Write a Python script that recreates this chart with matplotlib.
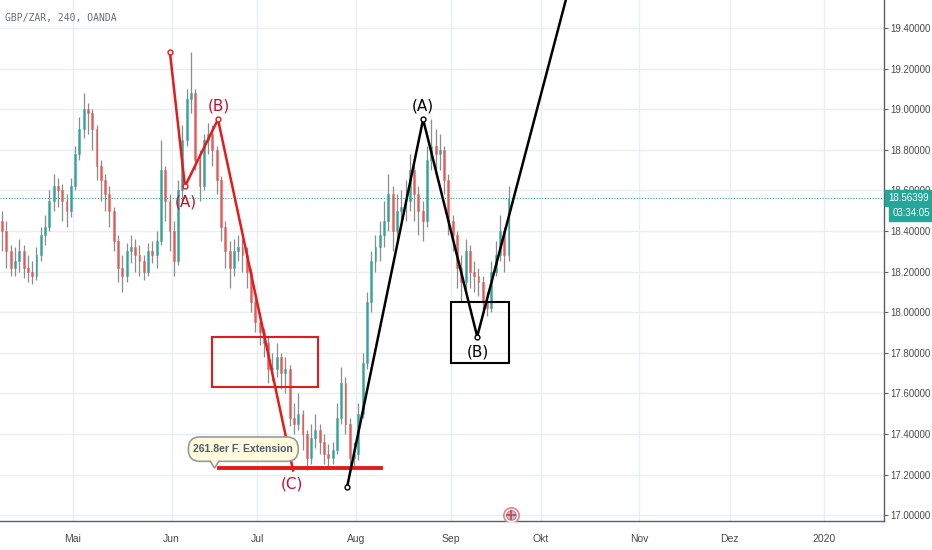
import numpy as np
import matplotlib
matplotlib.use("Agg")
import matplotlib.pyplot as plt
from matplotlib.patches import Rectangle, FancyBboxPatch, Polygon

# daily candles GBP/ZAR, weekday index 0 = 2019-04-08
closes = [18.40, 18.30, 18.22, 18.25, 18.30, 18.22, 18.20, 18.18, 18.28, 18.38,
          18.42, 18.55, 18.62, 18.60, 18.55, 18.50, 18.62, 18.78, 18.90, 19.00,
          18.98, 18.90, 18.72, 18.65, 18.58, 18.50, 18.35, 18.22, 18.18, 18.30,
          18.32, 18.28, 18.25, 18.20, 18.30, 18.28, 18.35, 18.70, 18.55, 18.40,
          18.25, 18.60, 18.85, 19.05, 19.08, 18.75, 18.62, 18.85, 18.88, 18.80,
          18.65, 18.42, 18.30, 18.22, 18.30, 18.32, 18.28, 18.20, 18.05, 17.95,
          17.90, 17.85, 17.72, 17.72, 17.78, 17.70, 17.72, 17.48, 17.45, 17.50,
          17.40, 17.28, 17.38, 17.42, 17.36, 17.30, 17.28, 17.32, 17.48, 17.65,
          17.45, 17.28, 17.30, 17.50, 17.75, 18.05, 18.25, 18.32, 18.38, 18.45,
          18.58, 18.40, 18.50, 18.52, 18.55, 18.70, 18.58, 18.50, 18.45, 18.75,
          18.82, 18.78, 18.80, 18.65, 18.45, 18.38, 18.22, 18.15, 18.30, 18.20,
          18.18, 18.15, 18.05, 18.02, 18.20, 18.28, 18.40, 18.28, 18.564]
highs = [18.50, 18.45, 18.33, 18.32, 18.36, 18.33, 18.28, 18.25, 18.32, 18.42,
         18.48, 18.60, 18.68, 18.66, 18.63, 18.58, 18.66, 18.82, 18.96, 19.08,
         19.03, 19.00, 18.92, 18.75, 18.68, 18.62, 18.52, 18.38, 18.28, 18.34,
         18.38, 18.36, 18.33, 18.28, 18.34, 18.35, 18.40, 18.85, 18.72, 18.58,
         18.45, 18.65, 18.92, 19.10, 19.28, 19.10, 18.80, 18.88, 18.93, 18.92,
         18.82, 18.67, 18.45, 18.35, 18.36, 18.38, 18.36, 18.32, 18.22, 18.08,
         18.00, 17.92, 17.88, 17.80, 17.85, 17.80, 17.78, 17.74, 17.55, 17.60,
         17.52, 17.42, 17.45, 17.50, 17.45, 17.40, 17.35, 17.36, 17.55, 17.73,
         17.68, 17.48, 17.36, 17.55, 17.80, 18.10, 18.30, 18.38, 18.45, 18.55,
         18.68, 18.62, 18.58, 18.60, 18.65, 18.78, 18.72, 18.62, 18.55, 18.82,
         18.95, 18.90, 18.88, 18.82, 18.68, 18.48, 18.40, 18.28, 18.36, 18.33,
         18.25, 18.22, 18.18, 18.10, 18.25, 18.35, 18.48, 18.42, 18.62]
lows = [18.30, 18.22, 18.18, 18.18, 18.20, 18.17, 18.15, 18.14, 18.16, 18.25,
        18.33, 18.40, 18.50, 18.52, 18.45, 18.42, 18.47, 18.60, 18.75, 18.86,
        18.88, 18.80, 18.65, 18.55, 18.50, 18.42, 18.30, 18.15, 18.10, 18.15,
        18.24, 18.20, 18.18, 18.16, 18.18, 18.24, 18.22, 18.33, 18.45, 18.30,
        18.18, 18.23, 18.55, 18.82, 18.98, 18.70, 18.55, 18.60, 18.78, 18.72,
        18.58, 18.35, 18.22, 18.12, 18.18, 18.25, 18.20, 18.12, 18.00, 17.90,
        17.84, 17.78, 17.65, 17.66, 17.68, 17.62, 17.60, 17.44, 17.40, 17.42,
        17.32, 17.22, 17.25, 17.33, 17.30, 17.25, 17.24, 17.25, 17.30, 17.45,
        17.40, 17.22, 17.24, 17.27, 17.48, 17.72, 18.00, 18.20, 18.25, 18.32,
        18.40, 18.30, 18.35, 18.42, 18.45, 18.50, 18.45, 18.38, 18.35, 18.42,
        18.70, 18.68, 18.70, 18.58, 18.38, 18.30, 18.12, 18.05, 18.10, 18.12,
        18.10, 18.08, 18.00, 17.98, 18.00, 18.18, 18.25, 18.20, 18.25]
first_open = 18.45
last_price = 18.56399
countdown = "03:34:05"

start_day = "2019-04-08"
month_starts = ["2019-05-01", "2019-06-01", "2019-07-01", "2019-08-01", "2019-09-01",
                "2019-10-01", "2019-11-01", "2019-12-01", "2020-01-01"]
month_labels = ["Mai", "Jun", "Jul", "Aug", "Sep", "Okt", "Nov", "Dez", "2020"]
price_ticks = [17.0, 17.2, 17.4, 17.6, 17.8, 18.0, 18.2, 18.4, 18.6, 18.8, 19.0, 19.2, 19.4]

# drawings (weekday index, price)
red_wave_x = [39.6, 43.1, 50.8, 68.3]
red_wave_y = [19.28, 18.62, 18.95, 17.22]
red_labels = ["(A)", "(B)", "(C)"]
red_box = (49.4, 74.1, 17.63, 17.88)
ext_line_x = [51.0, 88.8]
ext_line_y = 17.23
ext_text = "261.8er F. Extension"
black_wave_x = [80.9, 98.6, 111.2, 133.0]
black_wave_y = [17.14, 18.95, 17.88, 19.63]
black_labels = ["(A)", "(B)"]
black_box = (105.1, 118.6, 17.75, 18.05)

up_col = "#26a69a"
down_col = "#ef5350"
wick_col = "#8c8c8c"
grid_col = "#e8eef4"
red = "#e31b1b"
font = ["Liberation Sans", "DejaVu Sans"]

fig = plt.figure(figsize=(9.32, 5.50), dpi=100)
ax = fig.add_axes([0, 29 / 550, 884 / 932, 521 / 550])

opens = [first_open] + closes[:-1]
xs = np.arange(len(closes)) + 0.5
for x, o, h, l, c in zip(xs, opens, highs, lows, closes):
    ax.vlines(x, l, h, color=wick_col, lw=0.9, zorder=2)
    col = up_col if c >= o else down_col
    ax.add_patch(Rectangle((x - 0.22, min(o, c)), 0.44, max(abs(c - o), 0.004),
                           facecolor=col, edgecolor=col, lw=0.4, alpha=0.8, zorder=3))

ax.axhline(last_price, color="#26a69a", lw=0.8, ls=(0, (1, 1.5)), zorder=1)

# red ABC
ax.plot(red_wave_x, red_wave_y, color=red, lw=1.8, zorder=5)
ax.plot(red_wave_x[:3], red_wave_y[:3], "o", ms=3.5, mfc="white", mec=red, mew=1, zorder=6)
ax.text(red_wave_x[1] + 0.1, red_wave_y[1] - 0.04, red_labels[0], color="#c8102e",
        fontsize=11, ha="center", va="top", zorder=7)
ax.text(red_wave_x[2] + 0.1, red_wave_y[2] + 0.03, red_labels[1], color="#c8102e",
        fontsize=11, ha="center", va="bottom", zorder=7)
ax.text(red_wave_x[3] - 0.2, red_wave_y[3] - 0.03, red_labels[2], color="#c8102e",
        fontsize=11, ha="center", va="top", zorder=7)
ax.add_patch(Rectangle((red_box[0], red_box[2]), red_box[1] - red_box[0], red_box[3] - red_box[2],
                       fill=False, edgecolor=red, lw=1.5, zorder=5))
ax.plot(ext_line_x, [ext_line_y, ext_line_y], color=red, lw=2.8, zorder=5)

# callout
bx0, bx1, by0, by1 = 43.9, 69.5, 17.265, 17.385
ax.add_patch(FancyBboxPatch((bx0, by0), bx1 - bx0, by1 - by0,
                            boxstyle="round,pad=0,rounding_size=2.6", mutation_aspect=0.022,
                            facecolor="#fffbdc", edgecolor="#9a9a9a", lw=1.2, zorder=8))
ax.add_patch(Polygon([[49.0, by0 + 0.006], [50.0, 17.232], [51.0, by0 + 0.006]], closed=True,
                     facecolor="#fffbdc", edgecolor="none", zorder=9))
ax.plot([49.0, 50.0, 51.0], [by0, 17.232, by0], color="#9a9a9a", lw=1.2, zorder=9)
ax.text((bx0 + bx1) / 2, (by0 + by1) / 2, ext_text, fontsize=7.5, fontweight="bold",
        family=font, color="#4f5b6e", ha="center", va="center", zorder=10)

# black AB
ax.plot(black_wave_x, black_wave_y, color="black", lw=1.8, zorder=5)
ax.plot(black_wave_x[:3], black_wave_y[:3], "o", ms=3.5, mfc="white", mec="black", mew=1, zorder=6)
ax.text(black_wave_x[1], black_wave_y[1] + 0.03, black_labels[0], color="black",
        fontsize=11, ha="center", va="bottom", zorder=7)
ax.text(black_wave_x[2] + 0.2, black_wave_y[2] - 0.04, black_labels[1], color="black",
        fontsize=11, ha="center", va="top", zorder=7)
ax.add_patch(Rectangle((black_box[0], black_box[2]), black_box[1] - black_box[0],
                       black_box[3] - black_box[2], fill=False, edgecolor="black", lw=1.5, zorder=5))

# event marker
ax.plot([119.1], [17.0], "o", ms=11, mfc="white", mec="#f08080", mew=1.2, zorder=6)
ax.plot([119.1], [17.0], "o", ms=7, mfc="#b0c4de", mec="#7a8aa0", mew=0.6, zorder=7)
ax.plot([119.1], [17.0], "+", ms=7, mec="#e53935", mew=1.2, zorder=8)

# axes
month_pos = [np.busday_count(start_day, m) for m in month_starts]
ax.set_xlim(0, 206.0)
ax.set_ylim(16.971, 19.538)
ax.set_xticks(month_pos)
ax.set_xticklabels(month_labels, family=font)
ax.set_yticks(price_ticks)
ax.set_yticklabels(["%.5f" % p for p in price_ticks], family=font)
ax.yaxis.tick_right()
ax.grid(True, color=grid_col, lw=1)
ax.set_axisbelow(True)
for s in ["top", "left"]:
    ax.spines[s].set_visible(False)
for s in ["right", "bottom"]:
    ax.spines[s].set_color("#5d606b")
    ax.spines[s].set_linewidth(1)
ax.tick_params(axis="y", colors="#5d606b", labelcolor="#4a4a4a", labelsize=7, length=3, pad=1.5)
ax.tick_params(axis="x", length=0, labelcolor="#4a4a4a", labelsize=7.5, pad=9)

ax.annotate("%.5f" % last_price, xy=(1.0, last_price), xycoords=("axes fraction", "data"),
            xytext=(3, 0), textcoords="offset points", ha="left", va="center",
            fontsize=7, family=font, color="white", annotation_clip=False, zorder=20,
            bbox=dict(boxstyle="square,pad=0.3", fc="#26a69a", ec="#26a69a"))
ax.annotate(countdown, xy=(1.0, last_price), xycoords=("axes fraction", "data"),
            xytext=(6, -11), textcoords="offset points", ha="left", va="center",
            fontsize=7, family=font, color="white", annotation_clip=False, zorder=20,
            bbox=dict(boxstyle="square,pad=0.3", fc="#26a69a", ec="#26a69a"))

ax.text(0.006, 0.975, "GBP/ZAR, 240, OANDA", transform=ax.transAxes, fontsize=7,
        family="DejaVu Sans Mono", color="#6a6d78", ha="left", va="top")

fig.savefig("out.png", dpi=100)
